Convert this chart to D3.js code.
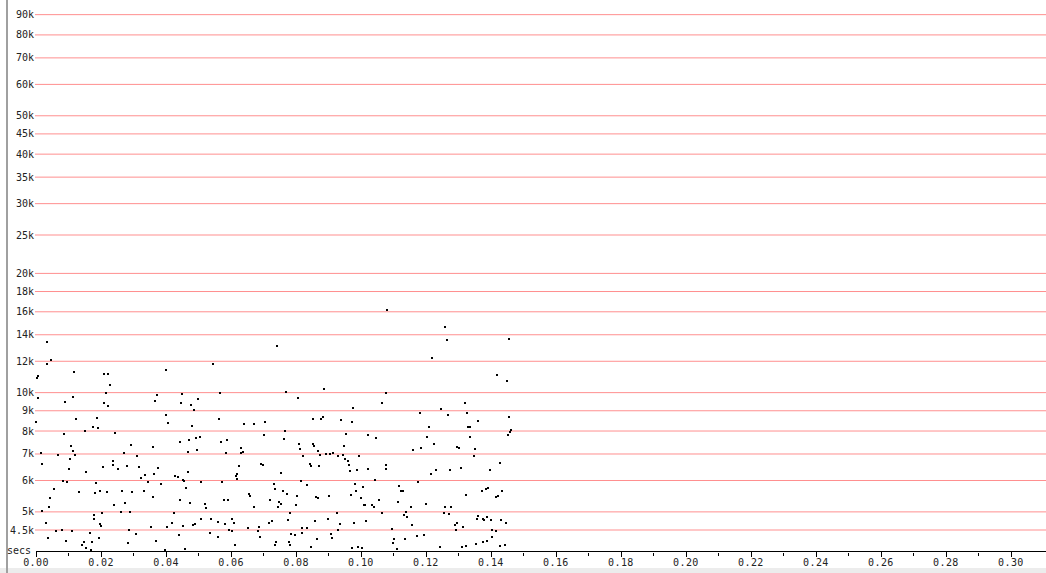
<!DOCTYPE html>
<html>
<head>
<meta charset="utf-8">
<script src="https://cdn.jsdelivr.net/npm/d3@7"></script>
<style>
  body { margin: 0; background: #fff; }
  svg { display: block; }
  text { font-family: "DejaVu Sans Mono", monospace; font-size: 10px; fill: #222; }
</style>
</head>
<body>
<div id="graph-container"></div>
<script>
// frequency ticks (Hz) and their labels
const yTicks = [90000, 80000, 70000, 60000, 50000, 45000, 40000, 35000, 30000, 25000,
                20000, 18000, 16000, 14000, 12000, 10000, 9000, 8000, 7000, 6000, 5000, 4500];
const yTickLabels = ["90k", "80k", "70k", "60k", "50k", "45k", "40k", "35k", "30k", "25k",
                     "20k", "18k", "16k", "14k", "12k", "10k", "9k", "8k", "7k", "6k", "5k", "4.5k"];

// time ticks (secs)
const xMajor = [0, 0.02, 0.04, 0.06, 0.08, 0.10, 0.12, 0.14, 0.16, 0.18, 0.20, 0.22, 0.24, 0.26, 0.28, 0.30];
const xMinor = [0.01, 0.03, 0.05, 0.07, 0.09, 0.11, 0.13, 0.15, 0.17, 0.19, 0.21, 0.23, 0.25, 0.27, 0.29];

// points: [time in ms, frequency in Hz]
const dots = [
  [3.3,13460],[3.5,11830],[4.5,12100],[0.2,10890],[0.7,11040],[11.7,11270],[21.0,11160],[22.3,11160],
  [22.8,10480],[21.5,9980],[0.5,9670],[8.9,9450],[11.5,9740],[20.8,9410],[22.1,9240],[36.5,9540],
  [0.0,8420],[12.2,8570],[18.8,8620],[15.0,8020],[17.4,8170],[19.0,8120],[8.7,7860],[24.3,7930],
  [29.2,7370],[10.7,7340],[11.3,7130],[11.9,6960],[6.8,6950],[1.5,7060],[27.0,7030],[31.0,6900],
  [36.1,7300],[1.9,6590],[10.5,6810],[10.3,6400],[20.5,6490],[23.6,6580],[23.8,6740],[25.3,6400],
  [28.0,6530],[31.6,6490],[15.5,6320],[33.5,6180],[32.2,6090],[34.4,5960],[36.3,6240],[8.2,5990],
  [9.4,5940],[18.6,5920],[13.2,5600],[18.3,5580],[19.6,5650],[21.8,5600],[26.5,5630],[29.5,5600],
  [33.1,5650],[35.9,5450],[5.6,5710],[4.4,5410],[4.0,5140],[1.8,5030],[24.0,5200],[27.3,5270],
  [26.2,5000],[28.8,5000],[20.3,4970],[17.7,4900],[18.0,4810],[19.7,4670],[20.0,4610],[3.0,4680],
  [6.3,4470],[8.0,4500],[11.0,4480],[28.6,4510],[30.8,4390],[35.3,4590],[16.7,4410],[3.7,4300],
  [9.1,4220],[19.3,4300],[17.2,4200],[14.7,4190],[14.3,4130],[15.3,4060],[17.0,4010],[28.2,4170],

  [39.9,11410],[54.4,11830],[37.2,9890],[44.8,9930],[44.6,9410],[47.7,9280],[48.5,9060],[49.8,9650],
  [56.6,9980],[40.1,8770],[40.6,8370],[48.1,8220],[56.4,8570],[63.9,8350],[67.2,8320],[70.4,8420],
  [70.2,7830],[44.3,7490],[47.1,7590],[49.1,7690],[50.4,7730],[46.9,7100],[49.6,7160],[56.8,7510],
  [58.9,7590],[58.5,7060],[63.0,7230],[63.2,7060],[63.7,7100],[37.6,6450],[42.9,6150],[43.8,6120],
  [45.2,6010],[45.6,5990],[46.7,6320],[38.5,5880],[50.7,5960],[57.1,5940],[46.2,5730],[62.4,6530],
  [61.4,6150],[61.9,6220],[61.7,6060],[69.1,6620],[69.7,6560],[73.2,5880],[73.4,5710],[44.2,5350],
  [47.4,5250],[51.9,5220],[52.4,5120],[57.8,5370],[59.2,5350],[65.4,5560],[65.8,5480],[67.0,5140],
  [71.9,5350],[42.4,4970],[40.3,4580],[42.0,4680],[45.3,4600],[48.3,4620],[48.9,4670],[50.9,4810],
  [53.9,4810],[56.1,4710],[58.2,4650],[60.4,4810],[60.8,4700],[59.4,4510],[60.2,4470],[65.2,4560],
  [68.4,4470],[68.7,4570],[71.7,4680],[72.5,4740],[68.9,4330],[43.9,4360],[53.6,4410],[56.0,4320],
  [36.8,4230],[39.6,4010],[45.8,4030],[61.1,4120],

  [74.2,13100],[76.9,10060],[88.5,10200],[80.7,9700],[107.6,9980],[106.6,9390],[97.6,9150],[85.2,8570],
  [87.7,8570],[88.2,8700],[94.0,8530],[97.2,8450],[76.6,8020],[76.4,7630],[95.3,7860],[102.1,7830],
  [104.5,7690],[80.9,7440],[81.2,7200],[85.1,7400],[85.7,7330],[86.7,7130],[82.2,6900],[87.5,6950],
  [89.2,6990],[90.5,6990],[91.5,7040],[92.8,6920],[94.4,6950],[94.8,7330],[95.1,6780],[96.0,6720],
  [96.3,6560],[96.6,6340],[99.3,6920],[98.8,6360],[102.2,6430],[107.6,6430],[107.8,6560],[84.3,6590],
  [84.6,6530],[87.0,6530],[75.5,6270],[81.5,5990],[83.5,5830],[76.0,5630],[77.2,5540],[80.3,5480],
  [74.8,5310],[75.3,5240],[74.5,5150],[80.0,5200],[86.3,5450],[86.7,5420],[90.3,5480],[96.8,5510],
  [98.1,5880],[98.6,5630],[100.5,5790],[100.0,5420],[100.8,5200],[101.3,5200],[103.4,5190],[103.9,5140],
  [104.3,6010],[105.5,5350],[106.4,4980],[78.3,4960],[77.5,4760],[86.0,4740],[90.0,4810],[92.6,4960],
  [93.5,4650],[93.0,4510],[97.8,4680],[101.5,4740],[81.8,4560],[83.3,4560],[81.9,4430],[78.5,4390],
  [79.7,4370],[90.8,4390],[91.1,4300],[86.5,4260],[73.8,4190],[73.6,4130],[77.7,4190],[78.1,4130],
  [84.7,4070],[97.2,4050],[99.2,4070],[100.4,4050],[109.5,4530],[110.1,4280],[109.8,4180],[108.0,16200],

  [125.8,14650],[126.4,13570],[145.4,13620],[121.8,12200],[141.8,11100],[144.8,10710],[131.9,9400],[124.6,9080],
  [118.1,8870],[126.9,8800],[132.6,8900],[136.1,8460],[145.6,8660],[121.0,8210],[132.9,8180],[133.7,8210],
  [146.2,8070],[145.9,7940],[145.1,7840],[120.3,7720],[133.6,7720],[122.4,7410],[116.0,7160],[118.4,7230],
  [129.7,7290],[130.1,7250],[135.1,7190],[134.7,6900],[142.7,6660],[123.1,6380],[121.5,6230],[127.4,6360],
  [130.9,6450],[139.6,6360],[117.5,5940],[111.6,5810],[112.3,5660],[112.9,5630],[111.3,5290],[115.4,5140],
  [119.9,5220],[132.2,5500],[137.2,5630],[138.5,5710],[139.2,5730],[141.4,5460],[142.1,5480],[143.4,5660],
  [113.9,5010],[113.1,4920],[114.2,4840],[125.8,5140],[127.6,5140],[125.5,4960],[127.1,4940],[135.9,4890],
  [135.6,4800],[137.4,4800],[138.0,4760],[138.9,4850],[140.1,4760],[143.2,4780],[144.6,4700],[115.6,4640],
  [128.8,4620],[129.6,4700],[131.4,4570],[129.3,4490],[140.4,4490],[141.6,4470],[111.0,4030],[113.5,4260],
  [117.3,4350],[119.4,4380],[124.3,4070],[131.1,4070],[132.4,4090],[135.4,4160],[137.6,4190],[138.8,4220],
  [140.4,4320],[142.8,4090],[144.4,4120]
];

const width = 1046, height = 573;
const plotLeft = 36, axisY = 551;

const svg = d3.select('#graph-container')
  .append('svg')
  .attr('width', width)
  .attr('height', height);

// scales
const x = d3.scaleLinear()
  .domain([0, 0.3108])
  .range([plotLeft, width]);

const y = d3.scaleLog()
  .domain([3983, 98000])
  .range([axisY, 0]);

// bottom strip
svg.append('rect')
  .attr('x', 0)
  .attr('y', 568)
  .attr('width', width)
  .attr('height', height - 568)
  .attr('fill', '#ececec');

// left border strip
svg.append('rect')
  .attr('x', 6)
  .attr('y', 0)
  .attr('width', 2)
  .attr('height', height)
  .attr('fill', '#a0a0a0');

// horizontal grid lines
svg.append('g')
  .selectAll('line')
  .data(yTicks)
  .join('line')
  .attr('x1', plotLeft - 1)
  .attr('x2', width)
  .attr('y1', d => y(d))
  .attr('y2', d => y(d))
  .attr('stroke', '#ff8f8f')
  .attr('stroke-width', 1);

// y labels
svg.append('g')
  .selectAll('text')
  .data(yTicks)
  .join('text')
  .attr('x', plotLeft - 2)
  .attr('y', d => y(d))
  .attr('dy', '0.35em')
  .attr('text-anchor', 'end')
  .text((d, i) => yTickLabels[i]);

// dots
svg.append('g')
  .selectAll('rect')
  .data(dots)
  .join('rect')
  .attr('x', d => Math.round(x(d[0] / 1000)) - 1)
  .attr('y', d => Math.round(y(d[1])) - 1)
  .attr('width', 2)
  .attr('height', 2)
  .attr('fill', '#000');

// x axis
const xAxis = svg.append('g');

xAxis.append('line')
  .attr('x1', plotLeft)
  .attr('x2', width)
  .attr('y1', axisY + 0.5)
  .attr('y2', axisY + 0.5)
  .attr('stroke', '#000');

xAxis.selectAll('.major')
  .data(xMajor)
  .join('line')
  .attr('class', 'major')
  .attr('x1', d => Math.round(x(d)) + 0.5)
  .attr('x2', d => Math.round(x(d)) + 0.5)
  .attr('y1', axisY)
  .attr('y2', axisY + 6)
  .attr('stroke', '#000');

xAxis.selectAll('.minor')
  .data(xMinor)
  .join('line')
  .attr('class', 'minor')
  .attr('x1', d => Math.round(x(d)) + 0.5)
  .attr('x2', d => Math.round(x(d)) + 0.5)
  .attr('y1', axisY + 2)
  .attr('y2', axisY + 5)
  .attr('stroke', '#000');

xAxis.selectAll('text')
  .data(xMajor)
  .join('text')
  .attr('x', d => x(d))
  .attr('y', axisY + 15)
  .attr('text-anchor', 'middle')
  .attr('letter-spacing', '0.4px')
  .text(d => d3.format('.2f')(d));

svg.append('text')
  .attr('x', 7)
  .attr('y', axisY + 3)
  .text('secs');
</script>
</body>
</html>
